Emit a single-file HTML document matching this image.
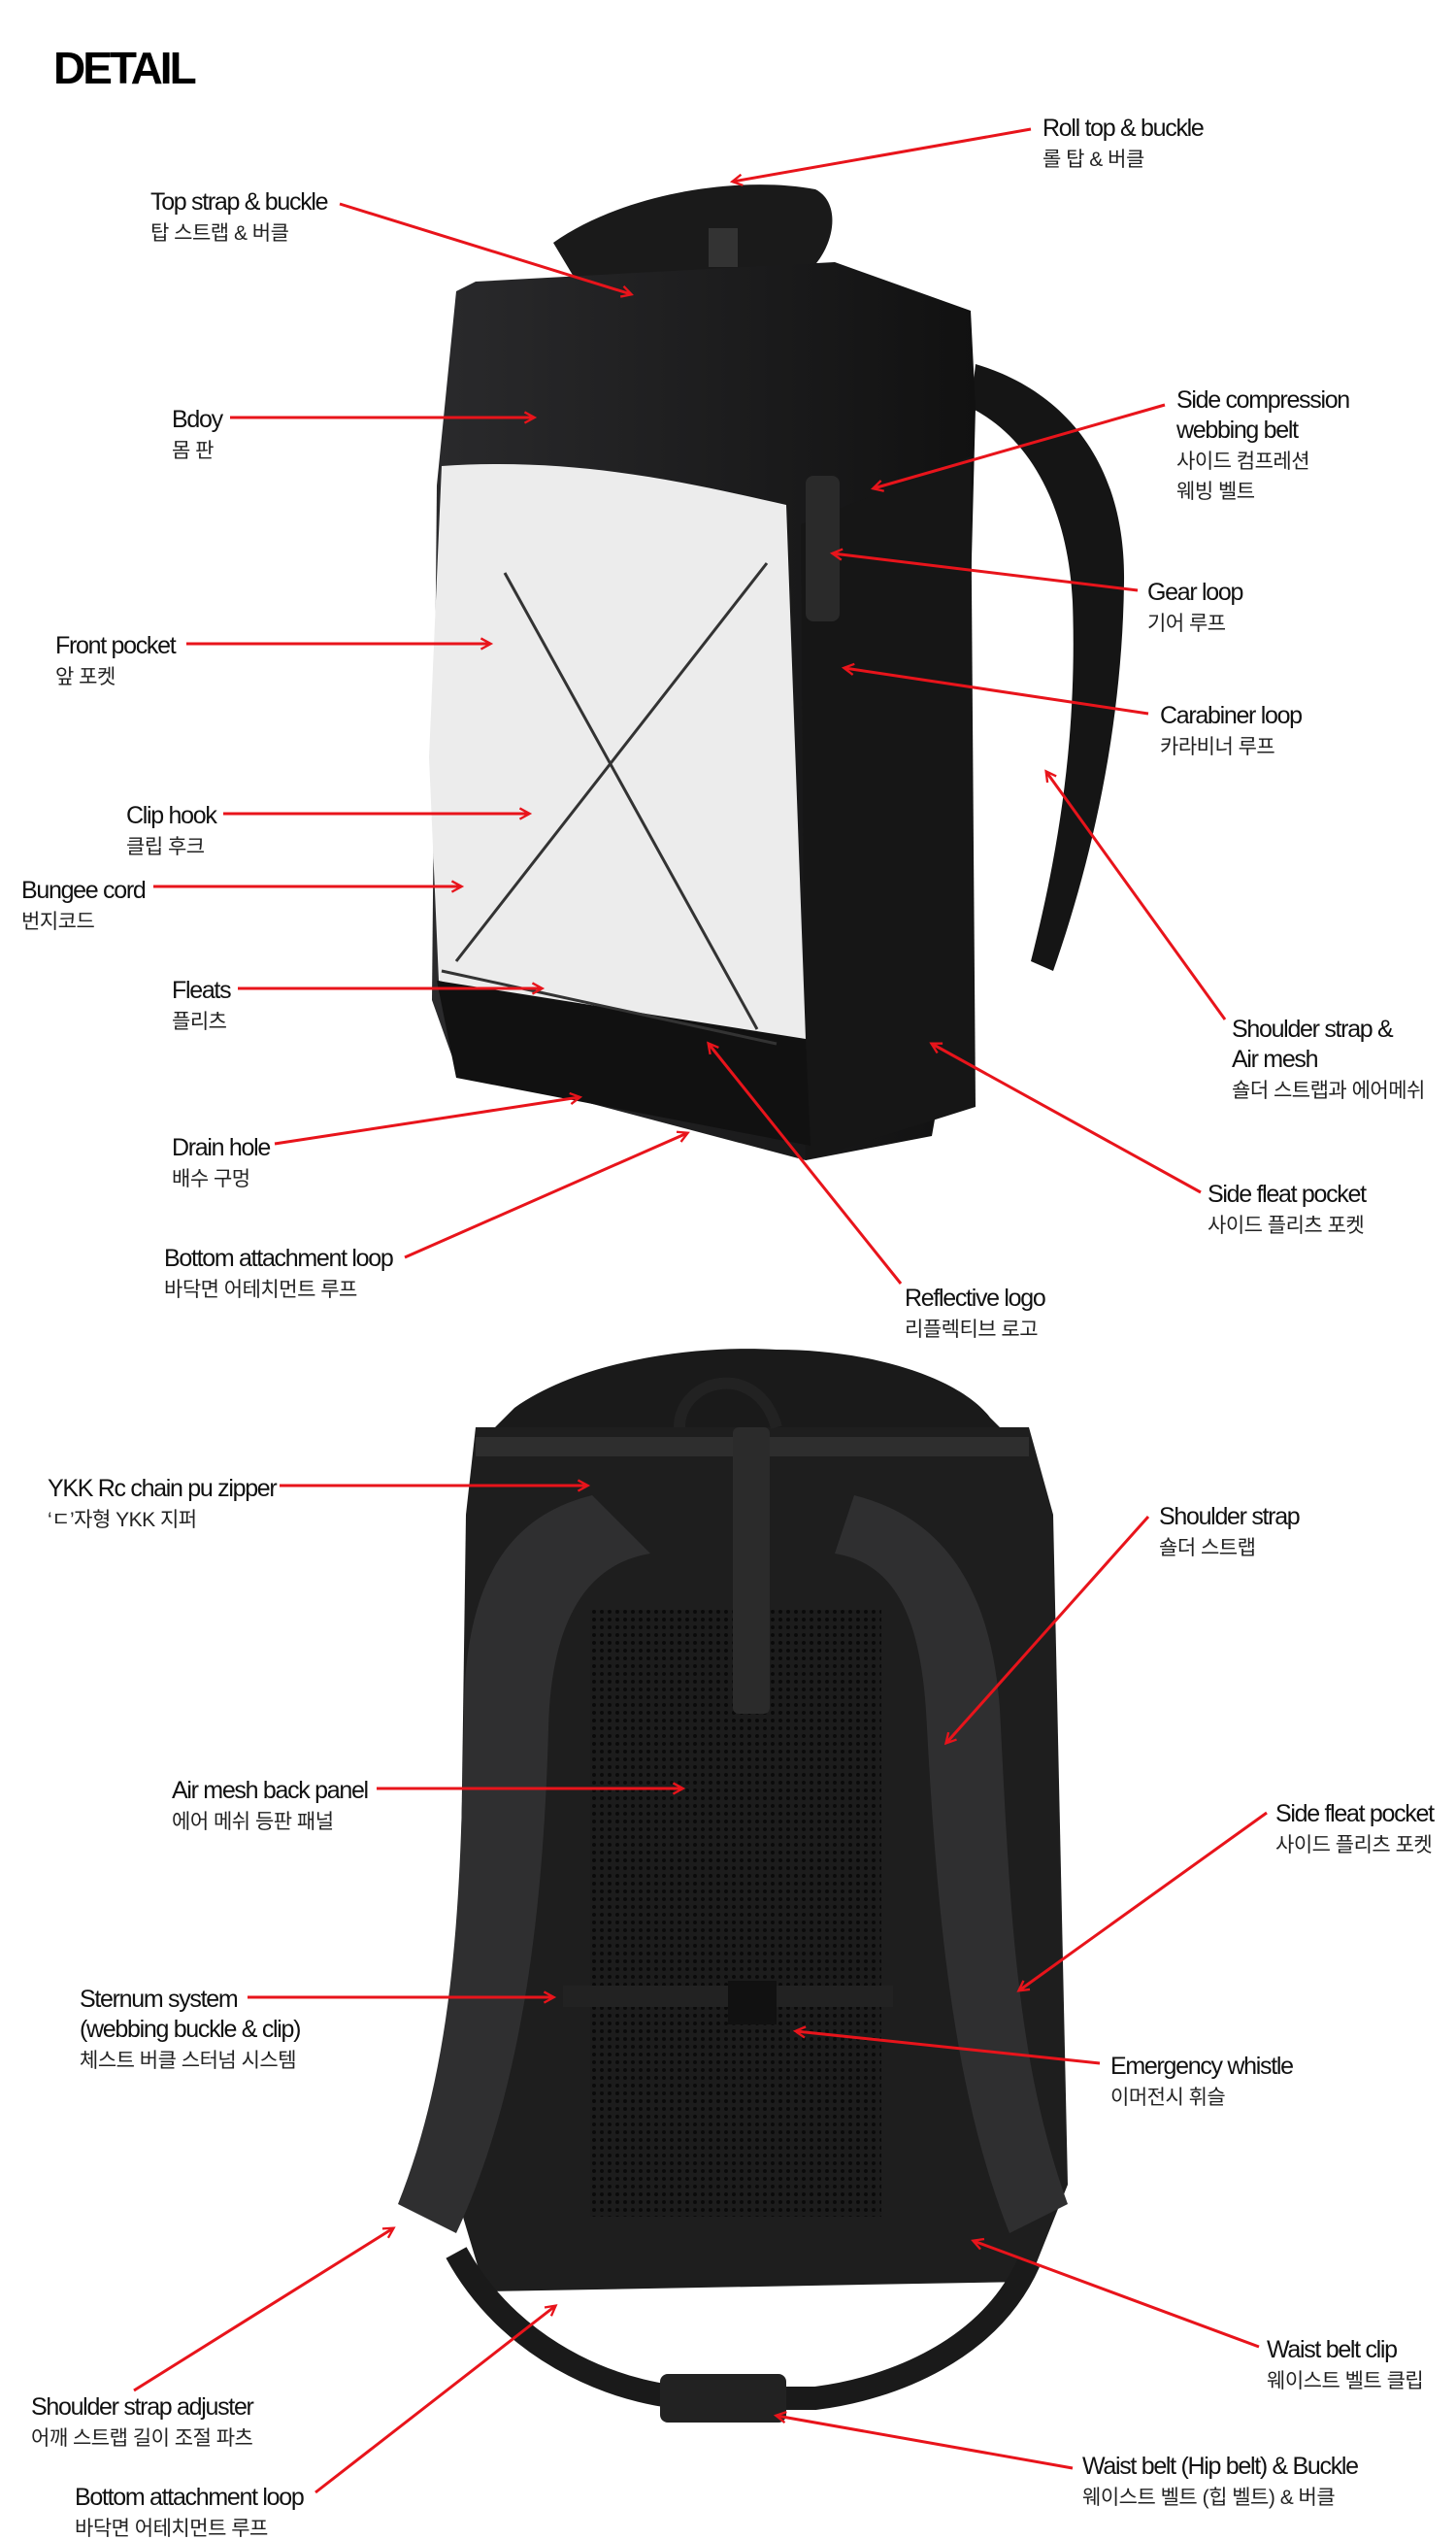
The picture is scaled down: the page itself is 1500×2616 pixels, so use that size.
<!DOCTYPE html>
<html><head><meta charset="utf-8"><style>
html,body{margin:0;padding:0;background:#fff;}
svg{display:block;}
.e{font-family:"Liberation Sans","Noto Sans CJK KR",sans-serif;font-size:25px;fill:#111;letter-spacing:-1.3px;}
.k{font-family:"Liberation Sans","Noto Sans CJK KR",sans-serif;font-size:21px;fill:#222;letter-spacing:-0.5px;}
.a{stroke:#e8141b;stroke-width:3;fill:none;marker-end:url(#m);}
</style></head><body>
<svg width="1500" height="2616" viewBox="0 0 1500 2616" xmlns="http://www.w3.org/2000/svg">
<defs>
<marker id="m" viewBox="0 0 12 12" refX="10" refY="6" markerWidth="7" markerHeight="7" orient="auto" markerUnits="userSpaceOnUse" style="overflow:visible">
<path d="M0,0 L11,6 L0,12" fill="none" stroke="#e8141b" stroke-width="2.5" transform="scale(1.6) translate(-4,-2.2)"/>
</marker>
<linearGradient id="g1" x1="0" x2="1"><stop offset="0" stop-color="#2a2a2c"/><stop offset="1" stop-color="#111"/></linearGradient>
<pattern id="mesh" width="8" height="8" patternUnits="userSpaceOnUse"><rect width="8" height="8" fill="#1c1c1c"/><circle cx="4" cy="4" r="2" fill="#0a0a0a"/></pattern>
</defs>
<text x="55" y="86" font-family="Liberation Sans,sans-serif" font-weight="bold" font-size="46" letter-spacing="-3" fill="#000">DETAIL</text>

<!-- TOP BACKPACK -->
<path d="M1005,375 C1090,400 1160,470 1158,600 C1156,760 1120,900 1085,1000 L1062,990 C1090,880 1110,760 1105,620 C1100,520 1060,450 1000,420 Z" fill="#151515"/>
<path d="M570,250 C640,200 760,180 840,195 C870,210 860,265 820,290 L600,300 Z" fill="#1a1a1a"/>
<path d="M490,290 L860,270 L1000,320 L1005,420 L990,1000 L960,1170 L830,1195 L470,1100 L445,1030 L450,500 L470,300 Z" fill="url(#g1)"/>
<path d="M825,540 L1000,470 L1005,1140 L830,1195 Z" fill="#161616"/>
<path d="M455,480 C600,470 720,500 810,520 L830,1070 L760,1085 L452,1010 L442,780 Z" fill="#ececec"/>
<path d="M450,1010 L830,1070 L835,1180 L470,1110 Z" fill="#111"/>
<path d="M520,590 L780,1060 M790,580 L470,990 M455,1000 L800,1075" stroke="#333" stroke-width="3" fill="none"/>
<rect x="730" y="235" width="30" height="40" fill="#333"/>
<rect x="830" y="490" width="35" height="150" rx="8" fill="#2a2a2a"/>

<!-- BOTTOM BACKPACK -->
<path d="M530,1450 C600,1400 720,1385 800,1390 C900,1390 990,1420 1020,1460 L1030,1470 L510,1470 Z" fill="#1a1a1a"/>
<path d="M490,1470 L1060,1470 L1085,1560 L1100,2250 L1060,2350 L500,2360 L470,2260 L480,1560 Z" fill="#1e1e1e"/>
<path d="M490,1480 L1060,1480 L1060,1500 L490,1500 Z" fill="#2e2e2e"/>
<rect x="608" y="1658" width="300" height="625" fill="url(#mesh)"/>
<path d="M610,1540 C530,1560 480,1620 478,1760 C475,1950 470,2120 410,2270 L470,2300 C540,2150 560,1960 565,1780 C568,1660 610,1610 670,1600 Z" fill="#2f2f30"/>
<path d="M880,1540 C960,1560 1020,1620 1030,1760 C1040,1950 1045,2120 1100,2270 L1040,2300 C980,2150 965,1960 955,1780 C950,1660 920,1610 860,1600 Z" fill="#2f2f30"/>
<rect x="755" y="1470" width="38" height="295" rx="6" fill="#2b2b2b"/>
<path d="M700,1470 C700,1420 780,1400 800,1470" stroke="#222" stroke-width="12" fill="none"/>
<rect x="580" y="2045" width="340" height="22" fill="#222"/>
<rect x="750" y="2040" width="50" height="45" fill="#111"/>
<path d="M470,2320 C530,2430 650,2470 720,2470 L840,2470 C920,2460 1020,2420 1060,2330" stroke="#1a1a1a" stroke-width="24" fill="none"/>
<rect x="680" y="2445" width="130" height="50" rx="8" fill="#222"/>

<!-- ARROWS -->
<g class="a">
<line x1="1062" y1="133" x2="755" y2="187"/>
<line x1="350" y1="210" x2="650" y2="303"/>
<line x1="237" y1="430" x2="550" y2="430"/>
<line x1="192" y1="663" x2="505" y2="663"/>
<line x1="230" y1="838" x2="545" y2="838"/>
<line x1="158" y1="913" x2="475" y2="913"/>
<line x1="245" y1="1018" x2="558" y2="1018"/>
<line x1="283" y1="1178" x2="597" y2="1130"/>
<line x1="417" y1="1295" x2="708" y2="1167"/>
<line x1="928" y1="1322" x2="730" y2="1075"/>
<line x1="1200" y1="417" x2="900" y2="503"/>
<line x1="1172" y1="608" x2="858" y2="570"/>
<line x1="1183" y1="735" x2="870" y2="688"/>
<line x1="1262" y1="1050" x2="1078" y2="795"/>
<line x1="1237" y1="1228" x2="960" y2="1075"/>
<line x1="288" y1="1530" x2="605" y2="1530"/>
<line x1="388" y1="1842" x2="703" y2="1842"/>
<line x1="255" y1="2057" x2="570" y2="2057"/>
<line x1="138" y1="2462" x2="405" y2="2295"/>
<line x1="325" y1="2567" x2="572" y2="2375"/>
<line x1="1183" y1="1562" x2="975" y2="1795"/>
<line x1="1305" y1="1867" x2="1050" y2="2050"/>
<line x1="1133" y1="2125" x2="820" y2="2092"/>
<line x1="1297" y1="2417" x2="1003" y2="2308"/>
<line x1="1105" y1="2542" x2="800" y2="2488"/>
</g>

<!-- LABELS -->
<g transform="translate(2,3)">
<text class="e" x="1072" y="137">Roll top &amp; buckle</text><text class="k" x="1072" y="168">롤 탑 &amp; 버클</text>
<text class="e" x="153" y="213">Top strap &amp; buckle</text><text class="k" x="153" y="244">탑 스트랩 &amp; 버클</text>
<text class="e" x="175" y="437">Bdoy</text><text class="k" x="175" y="468">몸 판</text>
<text class="e" x="55" y="670">Front pocket</text><text class="k" x="55" y="701">앞 포켓</text>
<text class="e" x="128" y="845">Clip hook</text><text class="k" x="128" y="876">클립 후크</text>
<text class="e" x="20" y="922">Bungee cord</text><text class="k" x="20" y="953">번지코드</text>
<text class="e" x="175" y="1025">Fleats</text><text class="k" x="175" y="1056">플리츠</text>
<text class="e" x="175" y="1187">Drain hole</text><text class="k" x="175" y="1218">배수 구멍</text>
<text class="e" x="167" y="1301">Bottom attachment loop</text><text class="k" x="167" y="1332">바닥면 어테치먼트 루프</text>
<text class="e" x="930" y="1342">Reflective logo</text><text class="k" x="930" y="1373">리플렉티브 로고</text>
<text class="e" x="1210" y="417">Side compression</text><text class="e" x="1210" y="448">webbing belt</text><text class="k" x="1210" y="479">사이드 컴프레션</text><text class="k" x="1210" y="510">웨빙 벨트</text>
<text class="e" x="1180" y="615">Gear loop</text><text class="k" x="1180" y="646">기어 루프</text>
<text class="e" x="1193" y="742">Carabiner loop</text><text class="k" x="1193" y="773">카라비너 루프</text>
<text class="e" x="1267" y="1065">Shoulder strap &amp;</text><text class="e" x="1267" y="1096">Air mesh</text><text class="k" x="1267" y="1127">숄더 스트랩과 에어메쉬</text>
<text class="e" x="1242" y="1235">Side fleat pocket</text><text class="k" x="1242" y="1266">사이드 플리츠 포켓</text>
<text class="e" x="47" y="1538">YKK Rc chain pu zipper</text><text class="k" x="47" y="1569">‘ㄷ’자형 YKK 지퍼</text>
<text class="e" x="175" y="1849">Air mesh back panel</text><text class="k" x="175" y="1880">에어 메쉬 등판 패널</text>
<text class="e" x="80" y="2064">Sternum system</text><text class="e" x="80" y="2095">(webbing buckle &amp; clip)</text><text class="k" x="80" y="2126">체스트 버클 스터넘 시스템</text>
<text class="e" x="30" y="2484">Shoulder strap adjuster</text><text class="k" x="30" y="2515">어깨 스트랩 길이 조절 파츠</text>
<text class="e" x="75" y="2577">Bottom attachment loop</text><text class="k" x="75" y="2608">바닥면 어테치먼트 루프</text>
<text class="e" x="1192" y="1567">Shoulder strap</text><text class="k" x="1192" y="1598">숄더 스트랩</text>
<text class="e" x="1312" y="1873">Side fleat pocket</text><text class="k" x="1312" y="1904">사이드 플리츠 포켓</text>
<text class="e" x="1142" y="2133">Emergency whistle</text><text class="k" x="1142" y="2164">이머전시 휘슬</text>
<text class="e" x="1303" y="2425">Waist belt clip</text><text class="k" x="1303" y="2456">웨이스트 벨트 클립</text>
<text class="e" x="1113" y="2545">Waist belt (Hip belt) &amp; Buckle</text><text class="k" x="1113" y="2576">웨이스트 벨트 (힙 벨트) &amp; 버클</text>
</g>
</svg>
</body></html>
